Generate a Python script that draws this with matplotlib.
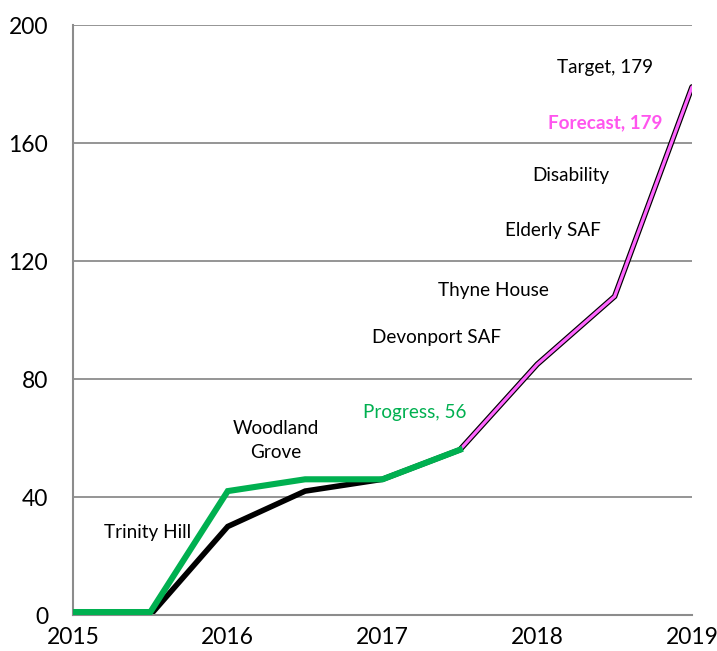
import matplotlib.pyplot as plt
import numpy as np

plt.rcParams['font.family'] = ['Lato', 'DejaVu Sans']

# half-year steps from 2015 to 2019
years = [2015, 2015.5, 2016, 2016.5, 2017, 2017.5, 2018, 2018.5, 2019]
target = [0, 0, 30, 42, 46, 56, 85, 108, 179]
forecast = [0, 0, np.nan, np.nan, np.nan, 56, 85, 108, 179]
progress = [1, 1, 42, 46, 46, 56]

tick_years = [2015, 2016, 2017, 2018, 2019]
y_ticks = [0, 40, 80, 120, 160, 200]

# (text, x, y, colour, weight)
labels = [
    ("Target, 179", 2018.44, 185.5, "black", "normal"),
    ("Forecast, 179", 2018.44, 167, "#FF55EE", "bold"),
    ("Disability", 2018.22, 149, "black", "normal"),
    ("Elderly SAF", 2018.10, 130.5, "black", "normal"),
    ("Thyne House", 2017.72, 110, "black", "normal"),
    ("Devonport SAF", 2017.35, 94, "black", "normal"),
    ("Progress, 56", 2017.21, 68.5, "#00B050", "normal"),
    ("Woodland\nGrove", 2016.31, 59, "black", "normal"),
    ("Trinity Hill", 2015.48, 28, "black", "normal"),
]

fig = plt.figure(figsize=(7.17, 6.51), dpi=100)
ax = fig.add_axes([73 / 717, 36 / 651, 619 / 717, 590 / 651])

for y in y_ticks[1:]:
    ax.axhline(y, color="#8c8c8c", lw=1.3, zorder=0)

ax.plot(years, target, color="black", lw=4.0, solid_joinstyle="miter",
        solid_capstyle="round", zorder=2)
ax.plot(years, forecast, color="#FF66FF", lw=2.3, solid_joinstyle="miter",
        solid_capstyle="round", zorder=3)
ax.plot(years[:len(progress)], progress, color="#00B050", lw=4.4,
        solid_joinstyle="miter", zorder=4)

for text, x, y, c, w in labels:
    ax.text(x, y, text, color=c, fontweight=w, fontsize=13.6,
            ha="center", va="center", linespacing=1.5)

ax.set_xlim(2015, 2019)
ax.set_ylim(0, 200)
ax.set_xticks(tick_years)
ax.set_yticks(y_ticks)
ax.tick_params(length=0, labelsize=16.5, pad=9)
ax.tick_params(axis="y", pad=18)
for s in ["top", "right"]:
    ax.spines[s].set_visible(False)
for s in ["left", "bottom"]:
    ax.spines[s].set_color("#8c8c8c")
    ax.spines[s].set_linewidth(1.5)

fig.savefig("out.png", dpi=100)
